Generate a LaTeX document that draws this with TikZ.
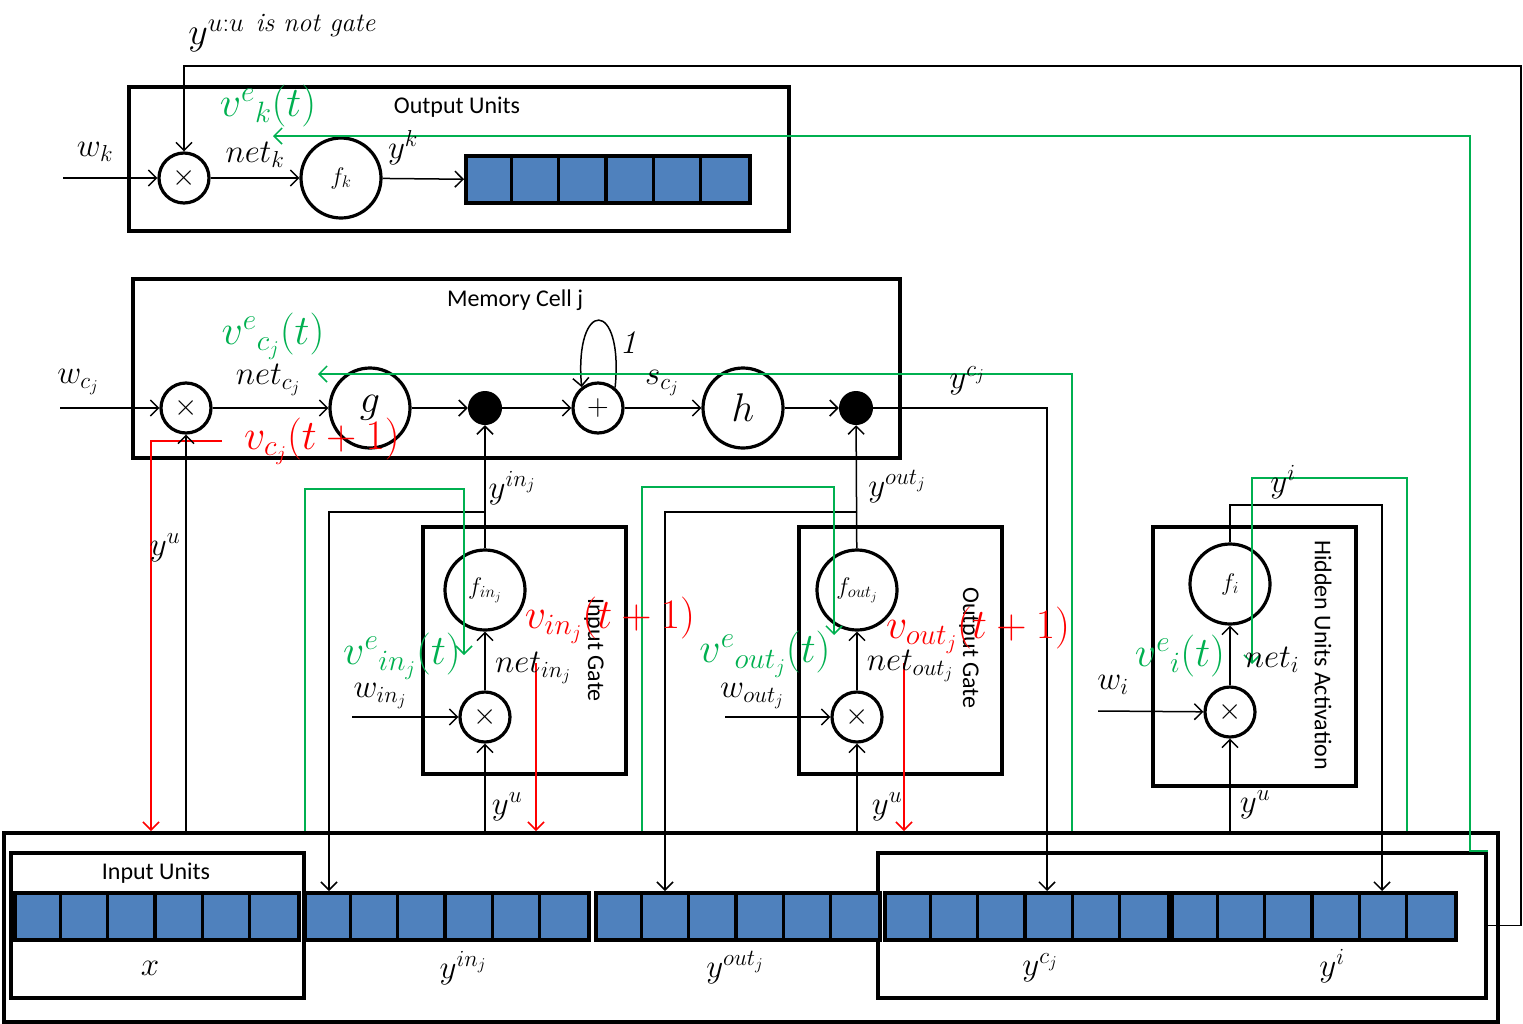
\RequirePackage{fix-cm}
\documentclass[tikz,border=0pt]{standalone}
\usepackage{amsmath}
\usepackage{fontspec}
\setsansfont{Carlito}
\usetikzlibrary{arrows.meta,calc}
\definecolor{cellblue}{HTML}{4F81BD}
\definecolor{dgreen}{HTML}{00B050}
\newcommand\cellarray[3]{%
  \node[draw,line width=3.5pt,fill=cellblue,minimum width=284pt,minimum height=47pt,inner sep=0pt,anchor=north west] (#1) at (#2,#3) {};
  \foreach \i in {1,...,5}{\draw[line width=3.5pt] ($(#1.north west)+(\i*47.33,0)$) -- ($(#1.south west)+(\i*47.33,0)$);}%
}
\begin{document}
\begin{tikzpicture}[x=1pt,y=-1pt,
  box/.style={draw,line width=3.5pt,inner sep=0pt,anchor=north west},
  op/.style={circle,draw,line width=3.2pt,minimum size=50pt,inner sep=0pt,font=\fontsize{30}{32}\selectfont},
  fn/.style={circle,draw,line width=3.2pt,minimum size=80pt,inner sep=0pt},
  blk/.style={circle,fill,minimum size=34pt,inner sep=0pt},
  conn/.style={line width=1.5pt,-{Straight Barb[length=8pt,width=16pt]}},
  lab/.style={inner sep=0pt,font=\fontsize{33}{36}\selectfont},
  clab/.style={inner sep=0pt,font=\fontsize{42}{46}\selectfont},
  sans/.style={inner sep=0pt,font=\sffamily\fontsize{24}{28}\selectfont},
  flab/.style={font=\fontsize{24}{28}\selectfont},
  glab/.style={font=\fontsize{40}{44}\selectfont},
]
\useasboundingbox (0,0) rectangle (1523,1023);

% boxes
\node[box,minimum width=660pt,minimum height=144pt] (outbox) at (127,85) {};
\node[box,minimum width=767pt,minimum height=179pt] (membox) at (131,277) {};
\node[box,minimum width=203pt,minimum height=247pt] (ingate) at (421,525) {};
\node[box,minimum width=203pt,minimum height=247pt] (outgate) at (797,525) {};
\node[box,minimum width=203pt,minimum height=259pt] (hidbox) at (1151,525) {};
\node[box,minimum width=1494pt,minimum height=189pt] (bottom) at (2,831) {};
\node[box,minimum width=293pt,minimum height=145pt] (inbox) at (9,851) {};
\node[box,minimum width=608pt,minimum height=145pt] (rbox) at (876,851) {};

% arrays
\cellarray{arrK}{464}{154}
\cellarray{arrX}{13}{891}
\cellarray{arrIn}{303}{891}
\cellarray{arrOut}{594}{891}
\cellarray{arrC}{883}{891}
\cellarray{arrI}{1170}{891}

% titles
\node[sans] (tOut) at (457,107) {Output Units};
\node[sans] (tMem) at (515,300) {Memory Cell j};
\node[sans] (tIn) at (156,873) {Input Units};
\node[sans,rotate=-90] (tIG) at (594,650) {Input Gate};
\node[sans,rotate=-90] (tOG) at (969,648) {Output Gate};
\node[sans,rotate=-90] (tHU) at (1323,655) {Hidden Units Activation};

% operators
\node[op] (tk) at (184,178) {$\times$};
\node[fn,flab] (fk) at (341,178) {$f_k$};
\node[op] (tc) at (186,408) {$\times$};
\node[fn,glab] (g) at (370,408) {$g$};
\node[blk] (d1) at (485,408) {};
\node[op] (plus) at (598,408) {$+$};
\node[fn,glab] (h) at (743,408) {$h$};
\node[blk] (d2) at (856,408) {};
\node[op] (tin) at (485,717) {$\times$};
\node[fn,flab] (fin) at (485,590) {$f_{in_j}$};
\node[op] (tout) at (857,717) {$\times$};
\node[fn,flab] (fout) at (857,590) {$f_{out_j}$};
\node[op] (thid) at (1230,712) {$\times$};
\node[fn,flab] (fhid) at (1230,584) {$f_i$};

% coordinates
\coordinate (wk0) at (63,178);
\coordinate (topR) at (1521,66);
\coordinate (gk) at (1470,136);
\coordinate (gkE) at (273,136);
\coordinate (wc0) at (60,408);
\coordinate (ycA) at (1047,891);
\coordinate (gc0) at (1072,831);
\coordinate (gcE) at (318,374);
\coordinate (rc0) at (222,441);
\coordinate (rcE) at (151,831);
\coordinate (yu0) at (186,831);
\coordinate (win0) at (352,717);
\coordinate (yu1) at (485,831);
\coordinate (bin) at (485,512);
\coordinate (binA) at (329,891);
\coordinate (gi0) at (305,831);
\coordinate (gi1) at (464,489);
\coordinate (gi2) at (464,655);
\coordinate (ri0) at (536,663);
\coordinate (ri1) at (536,831);
\coordinate (wout0) at (725,717);
\coordinate (yu2) at (857,831);
\coordinate (bout) at (857,512);
\coordinate (boutA) at (665,891);
\coordinate (go0) at (642,831);
\coordinate (go1) at (834,487);
\coordinate (go2) at (834,635);
\coordinate (ro0) at (904,663);
\coordinate (ro1) at (904,831);
\coordinate (wi0) at (1098,711);
\coordinate (yu3) at (1230,831);
\coordinate (hb) at (1382,505);
\coordinate (hA) at (1382,891);
\coordinate (gh0) at (1407,831);
\coordinate (gh1) at (1252,478);
\coordinate (gh2) at (1252,664);

% output units connectors
\draw[conn] (wk0) -- (tk);
\draw[conn] (tk) -- (fk);
\draw[conn] (fk) -- (arrK.west);
\draw[conn] (rbox.east) -| (topR) -| (tk.north);
\draw[conn,dgreen] (rbox.north east) -| (gk) -- (gkE);

% memory cell connectors
\draw[conn] (wc0) -- (tc);
\draw[conn] (tc) -- (g);
\draw[conn] (g) -- (d1);
\draw[conn] (d1) -- (plus);
\draw[conn] (plus) -- (h);
\draw[conn] (h) -- (d2);
\draw[conn] (plus.50) .. controls (624,298) and (574,298) .. (plus.128);
\draw[conn] (d2) -| (ycA);
\draw[conn,dgreen] (gc0) |- (gcE);
\draw[conn,red] (rc0) -| (rcE);
\draw[conn] (yu0) -- (tc);

% input gate connectors
\draw[conn] (win0) -- (tin);
\draw[conn] (yu1) -- (tin);
\draw[conn] (tin) -- (fin);
\draw[conn] (fin) -- (d1);
\draw[conn] (bin) -| (binA);
\draw[conn,dgreen] (gi0) |- (gi1) -- (gi2);
\draw[conn,red] (ri0) -- (ri1);

% output gate connectors
\draw[conn] (wout0) -- (tout);
\draw[conn] (yu2) -- (tout);
\draw[conn] (tout) -- (fout);
\draw[conn] (fout) -- (d2);
\draw[conn] (bout) -| (boutA);
\draw[conn,dgreen] (go0) |- (go1) -- (go2);
\draw[conn,red] (ro0) -- (ro1);

% hidden connectors
\draw[conn] (wi0) -- (thid);
\draw[conn] (yu3) -- (thid);
\draw[conn] (thid) -- (fhid);
\draw[conn] (fhid) |- (hb) -- (hA);
\draw[conn,dgreen] (gh0) |- (gh1) -- (gh2);

% black labels
\node[inner sep=0pt,font=\fontsize{38}{40}\selectfont] (lyu) at (282,33) {$y^{u:u\ \text{\itshape is not gate}}$};
\node[lab] (lwk) at (95,152) {$w_k$};
\node[lab] (lnetk) at (255,155) {$net_k$};
\node[lab] (lyk) at (403,148) {$y^k$};
\node[lab] (lwc) at (78,382) {$w_{c_j}$};
\node[lab] (lnetc) at (268,380) {$net_{c_j}$};
\node[lab] (lone) at (628,343) {$\mathit{1}$};
\node[lab] (lsc) at (662,383) {$s_{c_j}$};
\node[lab] (lyc) at (967,381) {$y^{c_j}$};
\node[lab] (lyuL) at (165,548) {$y^u$};
\node[lab] (lyin) at (512,488) {$y^{in_j}$};
\node[lab] (lyout) at (897,487) {$y^{out_j}$};
\node[lab] (lyi) at (1283,482) {$y^i$};
\node[lab] (lnetin) at (533,668) {$net_{in_j}$};
\node[lab] (lwin) at (380,696) {$w_{in_j}$};
\node[lab] (lyu1) at (507,807) {$y^u$};
\node[lab] (lnetout) at (910,666) {$net_{out_j}$};
\node[lab] (lwout) at (752,696) {$w_{out_j}$};
\node[lab] (lyu2) at (887,807) {$y^u$};
\node[lab] (lneti) at (1272,660) {$net_i$};
\node[lab] (lwi) at (1113,685) {$w_i$};
\node[lab] (lyu3) at (1255,805) {$y^u$};
\node[lab] (lx) at (150,968) {$x$};
\node[lab] (lain) at (463,968) {$y^{in_j}$};
\node[lab] (laout) at (735,968) {$y^{out_j}$};
\node[lab] (lac) at (1040,968) {$y^{c_j}$};
\node[lab] (lai) at (1332,966) {$y^i$};

% green labels
\node[clab,text=dgreen] (gvk) at (268,106) {$v^{e}{}_{k}(t)$};
\node[clab,text=dgreen] (gvc) at (273,336) {$v^{e}{}_{c_j}(t)$};
\node[clab,text=dgreen] (gvin) at (402,656) {$v^{e}{}_{in_j}(t)$};
\node[clab,text=dgreen] (gvout) at (765,654) {$v^{e}{}_{out_j}(t)$};
\node[clab,text=dgreen] (gvi) at (1180,656) {$v^{e}{}_{i}(t)$};

% red labels
\node[clab,text=red] (rvc) at (322,441) {$v_{c_j}(t+1)$};
\node[clab,text=red] (rvin) at (610,620) {$v_{in_j}(t+1)$};
\node[clab,text=red] (rvout) at (978,630) {$v_{out_j}(t+1)$};
\end{tikzpicture}
\end{document}
